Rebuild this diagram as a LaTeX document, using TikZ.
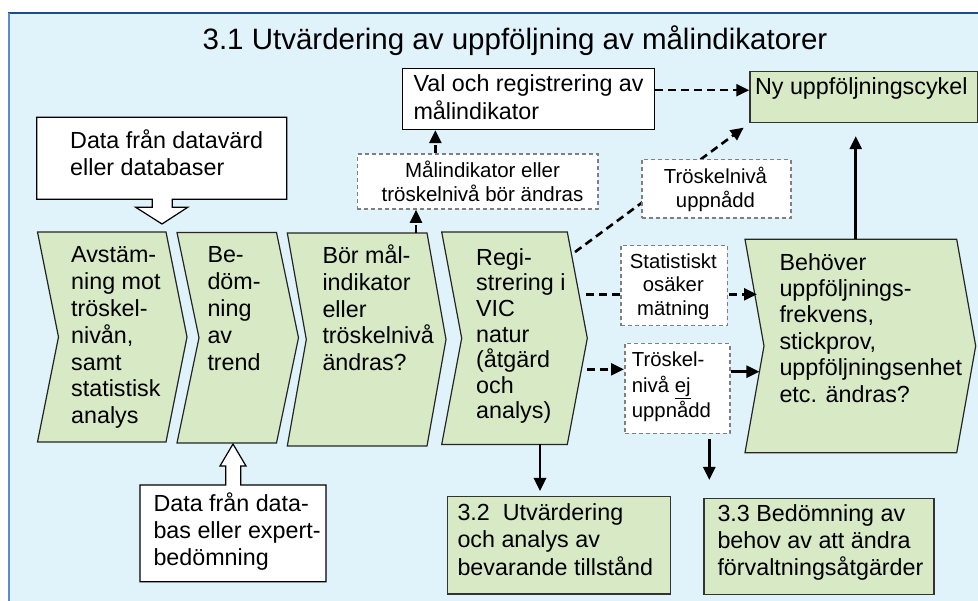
\documentclass[tikz,border=0pt]{standalone}
\usepackage{fontspec}
\setmainfont{Liberation Sans}
\usetikzlibrary{arrows.meta,calc}

\definecolor{bgblue}{HTML}{E0F2FA}
\definecolor{framedark}{HTML}{1F4A8C}
\definecolor{framelight}{HTML}{5B8BD0}
\definecolor{stepgreen}{HTML}{D7E9C5}
\definecolor{notegray}{HTML}{808080}

% font size / leading shortcut
\newcommand\fsz[2]{\fontsize{#1}{#2}\selectfont}
% one chevron step: left x, right x, point depth, top y, bottom y
\newcommand\chevshape[5]{%
  \draw[chev] (#1,#4) -- (#2,#4) -- ({#2+#3},{(#4+#5)/2}) -- (#2,#5)
    -- (#1,#5) -- ({#1+#3},{(#4+#5)/2}) -- cycle;}

\tikzset{
  chev/.style={draw=black!85, line width=1.2pt, fill=stepgreen, line join=miter},
  callout/.style={draw=black, line width=1.2pt, fill=white, line join=miter},
  whitebox/.style={draw=black, line width=1.2pt, fill=white, inner sep=0pt, anchor=north west},
  greenbox/.style={draw=black!80, line width=1.2pt, fill=stepgreen, inner sep=0pt, anchor=north west},
  notebox/.style={draw=notegray, line width=1.5pt, dash pattern=on 4pt off 3pt,
    fill=white, inner sep=0pt, anchor=north west},
  txt/.style={inner sep=0pt, anchor=north west, align=left},
  ctxt/.style={inner sep=0pt, anchor=north, align=center},
  solidarrow/.style={line width=2.6pt, -{Triangle[length=13pt,width=12pt]}},
  dasharrow/.style={solidarrow, dash pattern=on 8pt off 5pt},
}

\begin{document}
\begin{tikzpicture}[x=1pt, y=-1pt]
\useasboundingbox (0,0) rectangle (978,601);

% panel
\fill[bgblue] (9,13) rectangle (978,601);
\draw[framedark, line width=2pt] (8,13) -- (978,13);
\draw[framelight, line width=2pt] (9,13) -- (9,601);

\node[inner sep=0pt, anchor=base, font=\fsz{29.5}{33}] (title) at (515,50)
  {3.1 Utvärdering av uppföljning av målindikatorer};

% data source callouts
\draw[callout] (36.7,117.3) -- (286.7,117.3) -- (286.7,199.3) -- (172.3,199.3)
  -- (172.3,207.3) -- (187.7,207.3) -- (162,224) -- (135.7,207.3)
  -- (152.3,207.3) -- (152.3,199.3) -- (36.7,199.3) -- cycle;
\node[txt, font=\fsz{23.3}{26.7}] (srctop) at (70,129.6)
  {\strut Data från datavärd\\eller databaser};

\draw[callout] (140,485) -- (225.7,485) -- (225.7,466) -- (220,466) -- (233,444)
  -- (246,466) -- (240.7,466) -- (240.7,485) -- (326,485) -- (326,581.7)
  -- (140,581.7) -- cycle;
\node[txt, font=\fsz{23.3}{27}] (srcbot) at (153.3,492.8)
  {\strut Data från data-\\bas eller expert-\\bedömning};

% process chevrons
\chevshape{37.5}{166}{21}{232}{442}
\chevshape{177}{276.5}{22}{232.5}{443}
\chevshape{287.3}{427}{19}{233}{446}
\chevshape{441.7}{567.3}{20}{232}{444.5}
\chevshape{745}{956.7}{19}{239.3}{452.7}

\node[txt, font=\fsz{23.3}{26.8}] (s1) at (71,243.9)
  {\strut Avstäm-\\ning mot\\tröskel-\\nivån,\\samt\\statistisk\\analys};
\node[txt, font=\fsz{23.3}{26.8}] (s2) at (207.3,243.9)
  {\strut Be-\\döm-\\ning\\av\\trend};
\node[txt, font=\fsz{23.3}{26.8}] (s3) at (322.3,244.5)
  {\strut Bör mål-\\indikator\\eller\\tröskelnivå\\ändras?};
\node[txt, font=\fsz{23.3}{25.6}] (s4) at (476,247.1)
  {\strut Regi-\\strering i\\VIC\\natur\\(åtgärd\\och\\analys)};
\node[txt, font=\fsz{23.3}{26.4}] (s5) at (779.3,251.5)
  {\strut Behöver\\uppföljnings-\\frekvens,\\stickprov,\\uppföljningsenhet\\etc. ändras?};

% boxes
\node[whitebox, minimum width=252.3pt, minimum height=61.3pt] (val) at (401.7,67.7) {};
\node[txt, font=\fsz{23.3}{25}] (valt) at (413.3,74.2)
  {\strut Val och registrering av\\målindikator};

\node[greenbox, minimum width=228pt, minimum height=51.6pt] (ny) at (749.3,70.7) {};
\node[inner sep=0pt, anchor=base, font=\fsz{23.3}{26}] (nyt) at (861.3,95)
  {Ny uppföljningscykel};

\node[greenbox, minimum width=223.3pt, minimum height=97.3pt] (b32) at (446.7,496) {};
\node[txt, font=\fsz{23.3}{27.5}] (b32t) at (457.3,500.75)
  {\strut 3.2\ \ Utvärdering\\och analys av\\bevarande tillstånd};

\node[greenbox, minimum width=230pt, minimum height=96.3pt] (b33) at (703.3,497.7) {};
\node[txt, font=\fsz{23.3}{26.7}] (b33t) at (717.3,503)
  {\strut 3.3 Bedömning av\\behov av att ändra\\förvaltningsåtgärder};

% named connection points on the steps
\coordinate (c3top) at (416,233);
\coordinate (c4ne) at (575,252);
\coordinate (c4s) at (586,294.3);
\coordinate (c5s) at (757,294.3);
\coordinate (c4e) at (587.3,369.3);
\coordinate (c5e) at (759.4,371.7);
\coordinate (c4b) at (540,444.5);
\coordinate (c5t) at (855.7,239.3);
\coordinate (ejd) at (709.3,480);

% connectors that run beneath the note boxes
\draw[dasharrow, shorten >=7pt] (c4ne) -- (ny.south west);
\draw[dasharrow] (c4s) -- (c5s);

% note boxes
\node[notebox, minimum width=240.6pt, minimum height=55pt] (mal) at (356.7,153.3) {};
\node[ctxt, font=\fsz{20.5}{23.3}] (malt) at (482.5,160.4)
  {\strut Målindikator eller\\tröskelnivå bör ändras};

\node[notebox, minimum width=149pt, minimum height=58.3pt] (upp) at (641,159) {};
\node[ctxt, font=\fsz{20.3}{22.5}] (uppt) at (715.5,166.9)
  {\strut Tröskelnivå\\uppnådd};

\node[notebox, minimum width=106.7pt, minimum height=80pt] (stat) at (620,245) {};
\node[ctxt, font=\fsz{20.3}{23.3}] (statt) at (673.3,252)
  {\strut Statistiskt\\osäker\\mätning};

\node[notebox, minimum width=105.3pt, minimum height=90pt] (ej) at (624,342.7) {};
\node[txt, font=\fsz{20.3}{25.3}] (ejt) at (631.7,349)
  {\strut Tröskel-\\nivå \underline{ej}\\uppnådd};

% remaining connectors
\draw[dasharrow] (c3top) -- (c3top |- mal.south);
\coordinate (malup) at ($(mal.north west)!0.325!(mal.north east)$);
\draw[dasharrow] (malup) -- (malup |- val.south);
\coordinate (valr) at ($(val.north east)!0.36!(val.south east)$);
\draw[dasharrow] (valr) -- (valr -| ny.west);
\draw[dasharrow] (c4e) -- (c4e -| ej.west);
\draw[solidarrow] (c5e -| ej.east) -- (c5e);
\draw[solidarrow, shorten <=4.6pt] (ej.south -| ejd) -- (ejd);
\draw[solidarrow, shorten >=5pt] (c4b) -- (c4b |- b32.north);
\draw[solidarrow, shorten >=12.7pt] (c5t) -- (c5t |- ny.south);

\end{tikzpicture}
\end{document}
